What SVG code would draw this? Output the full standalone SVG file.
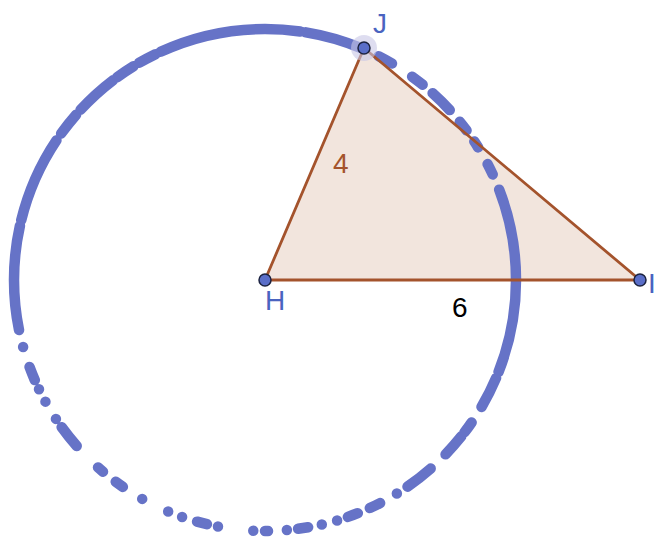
<svg xmlns="http://www.w3.org/2000/svg" width="658" height="539" viewBox="0 0 658 539">
<style>
.lbl{font-family:"Liberation Sans","DejaVu Sans",sans-serif;font-size:28px}
.blue{fill:#4a63c0}
.pt{fill:#5a6ec8;stroke:#1c2340;stroke-width:1.5}
.edge{stroke:#a4532c;stroke-width:2.8;fill:none;stroke-linecap:round}
</style>
<rect width="658" height="539" fill="#ffffff"/>
<g id="triangle-fill">
<polygon points="265,280 364,48 640,280" fill="#f2e5dd" stroke="none"/>
</g>
<g id="circle-trace">
<circle cx="265" cy="280" r="251" fill="none" stroke="#6673c7" stroke-width="10.5" stroke-linecap="round" pathLength="360"
 stroke-dasharray="21.5 1.5 7.4 4.2 2.8 1.2 5.4 4.7 6.7 2.9 0 4.4 2.6 3 2.4 2.6 0 3.6 0 3.2 2.3 2.6 0 4.3 0.7 2.7 0 8.1 0 2.6 2.3 3.6 0 3.4 0 6.6 0 5.2 2 3.7 1.5 6.9 5.5 2.3 0 4.6 0 3.2 0 2.3 3.2 4.8 0 4 24 1.3 20 1.9 5.5 1.5 10 1.2 4.5 1.5 4.2 1.3 32.7 1.3 13 4.5 3.5 5.5 3 3 5.5 3.5 2.5 3.1 1.6 4.4 2.6 3.8 21 0"/>
</g>
<g id="connectors">
<line class="edge" x1="265" y1="280" x2="364" y2="48"/>
<line class="edge" x1="364" y1="48" x2="640" y2="280"/>
<line class="edge" x1="265" y1="280" x2="640" y2="280"/>
</g>
<g id="J">
<circle cx="364" cy="48" r="13" fill="#c8c6e6" opacity="0.6"/>
<circle class="pt" cx="364" cy="48" r="6"/>
<text class="lbl blue" x="373" y="33">J</text>
</g>
<g id="H">
<circle class="pt" cx="265" cy="280" r="6"/>
<text class="lbl blue" x="265" y="310">H</text>
</g>
<g id="I">
<circle class="pt" cx="640" cy="280" r="6"/>
<text class="lbl blue" x="648" y="293">I</text>
</g>
<g id="label-4">
<text class="lbl" x="333" y="173" fill="#a4532c">4</text>
</g>
<g id="label-6">
<text class="lbl" x="452" y="317" fill="#000000">6</text>
</g>
</svg>
